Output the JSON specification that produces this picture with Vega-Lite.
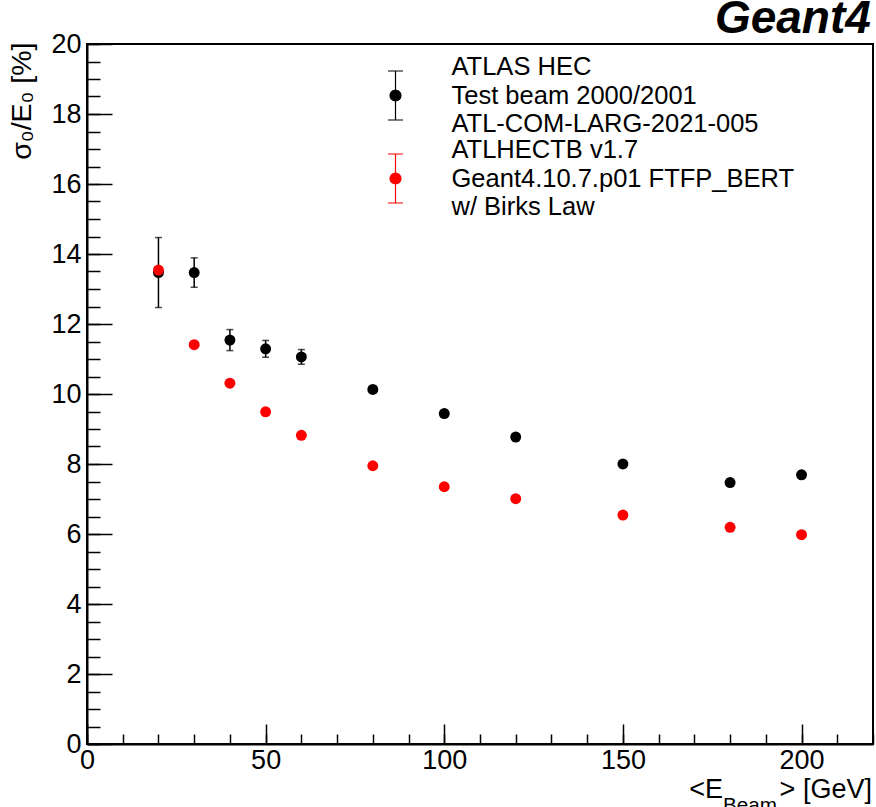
{
  "$schema": "https://vega.github.io/schema/vega-lite/v6.json",
  "width": 786,
  "height": 700,
  "autosize": {"type": "none"},
  "padding": {"left": 87, "top": 44, "right": 3, "bottom": 63},
  "background": "white",
  "config": {"font": "Liberation Sans", "view": {"stroke": "black", "strokeWidth": 2}},
  "data": {"values": [
    {"E": 20, "sigma": 13.47, "err": 1.0, "series": "data"},
    {"E": 30, "sigma": 13.47, "err": 0.42, "series": "data"},
    {"E": 40, "sigma": 11.54, "err": 0.30, "series": "data"},
    {"E": 50, "sigma": 11.29, "err": 0.24, "series": "data"},
    {"E": 60, "sigma": 11.06, "err": 0.21, "series": "data"},
    {"E": 80, "sigma": 10.13, "err": 0.1, "series": "data"},
    {"E": 100, "sigma": 9.44, "err": 0.1, "series": "data"},
    {"E": 120, "sigma": 8.77, "err": 0.1, "series": "data"},
    {"E": 150, "sigma": 8.0, "err": 0.1, "series": "data"},
    {"E": 180, "sigma": 7.47, "err": 0.1, "series": "data"},
    {"E": 200, "sigma": 7.69, "err": 0.1, "series": "data"},
    {"E": 20, "sigma": 13.54, "err": 0.05, "series": "sim"},
    {"E": 30, "sigma": 11.41, "err": 0.05, "series": "sim"},
    {"E": 40, "sigma": 10.31, "err": 0.05, "series": "sim"},
    {"E": 50, "sigma": 9.49, "err": 0.05, "series": "sim"},
    {"E": 60, "sigma": 8.82, "err": 0.05, "series": "sim"},
    {"E": 80, "sigma": 7.95, "err": 0.05, "series": "sim"},
    {"E": 100, "sigma": 7.35, "err": 0.05, "series": "sim"},
    {"E": 120, "sigma": 7.01, "err": 0.05, "series": "sim"},
    {"E": 150, "sigma": 6.54, "err": 0.05, "series": "sim"},
    {"E": 180, "sigma": 6.19, "err": 0.05, "series": "sim"},
    {"E": 200, "sigma": 5.98, "err": 0.05, "series": "sim"}
  ]},
  "resolve": {"axis": {"x": "independent", "y": "independent"}},
  "layer": [
    {
      "transform": [{"filter": "datum.series === 'data'"}],
      "mark": {"type": "errorbar", "ticks": {"size": 7}, "color": "black", "thickness": 1.5},
      "encoding": {
        "x": {"field": "E", "type": "quantitative", "scale": {"domain": [0, 220], "nice": false, "zero": false},
          "axis": {"orient": "bottom", "values": [0, 50, 100, 150, 200],
            "tickSize": -20, "labelPadding": 23, "labelFontSize": 27, "labelColor": "black", "labelFont": "Liberation Sans",
            "tickColor": "black", "domainColor": "black", "domainWidth": 2, "tickWidth": 1.5,
            "grid": false, "title": null, "labelFlush": false, "labelOverlap": false, "labelBound": false}},
        "y": {"field": "sigma", "type": "quantitative", "scale": {"domain": [0, 20], "nice": false, "zero": false},
          "axis": {"orient": "left", "values": [0, 2, 4, 6, 8, 10, 12, 14, 16, 18, 20],
            "tickSize": -25, "labelPadding": 31, "labelFontSize": 27, "labelColor": "black", "labelFont": "Liberation Sans",
            "tickColor": "black", "domainColor": "black", "domainWidth": 2, "tickWidth": 1.5,
            "grid": false, "labelFlush": false, "labelOverlap": false,
            "title": "σ₀/E₀ [%]", "titleFontSize": 28.5, "titleFont": "Liberation Sans", "titleFontWeight": "normal", "titleColor": "black",
            "titleAngle": -90, "titleAlign": "right", "titleBaseline": "middle", "titleX": -66, "titleY": -2}},
        "yError": {"field": "err"}
      }
    },
    {
      "mark": {"type": "point", "filled": true, "size": 120, "opacity": 1},
      "encoding": {
        "x": {"field": "E", "type": "quantitative",
          "axis": {"orient": "bottom", "values": [0, 10, 20, 30, 40, 50, 60, 70, 80, 90, 100, 110, 120, 130, 140, 150, 160, 170, 180, 190, 200, 210, 220],
            "tickSize": -10, "labels": false, "domain": false, "tickColor": "black", "tickWidth": 1.5, "grid": false, "title": null}},
        "y": {"field": "sigma", "type": "quantitative",
          "axis": {"orient": "left", "values": [0, 0.5, 1, 1.5, 2, 2.5, 3, 3.5, 4, 4.5, 5, 5.5, 6, 6.5, 7, 7.5, 8, 8.5, 9, 9.5, 10, 10.5, 11, 11.5, 12, 12.5, 13, 13.5, 14, 14.5, 15, 15.5, 16, 16.5, 17, 17.5, 18, 18.5, 19, 19.5, 20],
            "tickSize": -13, "labels": false, "domain": false, "tickColor": "black", "tickWidth": 1.5, "grid": false, "title": null}},
        "color": {"field": "series", "type": "nominal",
          "scale": {"domain": ["data", "sim"], "range": ["black", "red"]},
          "legend": {"orient": "none", "legendX": 283, "legendY": 26, "title": null, "padding": 0,
            "symbolType": "M-0.306,-1H0.306M0,-1V1M-0.306,1H0.306M0.224,0A0.224,0.224,0,1,1,-0.224,0A0.224,0.224,0,1,1,0.224,0Z",
            "symbolSize": 2401, "symbolStrokeWidth": 1.2, "symbolOpacity": 1,
            "labelExpr": "datum.value === 'data' ? ['ATLAS HEC','Test beam 2000/2001','ATL-COM-LARG-2021-005'] : ['ATLHECTB v1.7','Geant4.10.7.p01 FTFP_BERT','w/ Birks Law']",
            "labelFontSize": 25.5, "labelFont": "Liberation Sans", "labelColor": "black", "labelOffset": 30.5, "labelLimit": 0, "rowPadding": 0, "labelBaseline": "middle",
            "encode": {
              "symbols": {"update": {
                "shape": {"value": "M-0.306,-1H0.306M0,-1V1M-0.306,1H0.306M0.224,0A0.224,0.224,0,1,1,-0.224,0A0.224,0.224,0,1,1,0.224,0Z"},
                "size": {"value": 2401},
                "stroke": {"scale": "color", "field": "value"},
                "strokeWidth": {"value": 1.2}}},
              "labels": {"update": {"lineHeight": {"value": 28.5}, "dy": {"value": -28.5}}}
            }}}
      }
    },
    {
      "data": {"values": [{"t": "Geant4"}]},
      "mark": {"type": "text", "align": "right", "baseline": "alphabetic", "fontSize": 46, "fontWeight": "bold", "fontStyle": "italic", "font": "Liberation Sans", "color": "black"},
      "encoding": {"x": {"datum": 219.4, "axis": null}, "y": {"datum": 20.314, "axis": null}, "text": {"field": "t"}}
    },
    {
      "data": {"values": [{"t": "<E"}]},
      "mark": {"type": "text", "align": "right", "baseline": "alphabetic", "fontSize": 27, "font": "Liberation Sans", "color": "black"},
      "encoding": {"x": {"datum": 178, "axis": null}, "y": {"datum": -1.543, "axis": null}, "text": {"field": "t"}}
    },
    {
      "data": {"values": [{"t": "Beam"}]},
      "mark": {"type": "text", "align": "right", "baseline": "alphabetic", "fontSize": 20.7, "font": "Liberation Sans", "color": "black"},
      "encoding": {"x": {"datum": 193.13, "axis": null}, "y": {"datum": -1.957, "axis": null}, "text": {"field": "t"}}
    },
    {
      "data": {"values": [{"t": "> [GeV]"}]},
      "mark": {"type": "text", "align": "right", "baseline": "alphabetic", "fontSize": 27, "font": "Liberation Sans", "color": "black"},
      "encoding": {"x": {"datum": 219.7, "axis": null}, "y": {"datum": -1.543, "axis": null}, "text": {"field": "t"}}
    }
  ]
}
